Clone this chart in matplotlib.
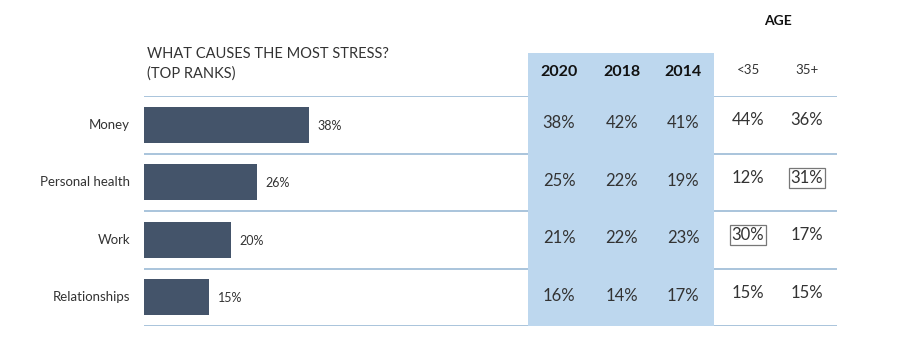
import matplotlib
matplotlib.use("Agg")
from matplotlib import pyplot as plt
from matplotlib.patches import Rectangle
from matplotlib.transforms import blended_transform_factory

plt.rcParams['font.family'] = ['Lato', 'DejaVu Sans']

categories = ['Money', 'Personal health', 'Work', 'Relationships']
stress_2020 = [38, 26, 20, 15]  # bar values
year_cols = ['2020', '2018', '2014']
year_vals = [[38, 42, 41], [25, 22, 19], [21, 22, 23], [16, 14, 17]]
age_cols = ['<35', '35+']
age_vals = [[44, 36], [12, 31], [30, 17], [15, 15]]
boxed = [(1, 1), (2, 0)]  # (row, age col) with a frame

txt = '#333333'
bar_col = '#44546A'
line_col = '#A3BFD9'
bg_col = '#BDD7EE'

W, H = 900, 364
fig = plt.figure(figsize=(9, 3.64), dpi=100)
ax = fig.add_axes([144 / W, (H - 326) / H, 693 / W, 230 / H])
ax.set_xlim(0, 160)
ax.set_ylim(3.5, -0.5)
ax.axis('off')

ys = range(len(categories))
ax.barh(ys, stress_2020, height=0.63, color=bar_col, zorder=2)
for i, v in enumerate(stress_2020):
    ax.text(v + 2, i + 0.02, f'{v}%', ha='left', va='center', fontsize=9, color=txt)
    ax.text(-14 / 4.33, i, categories[i], ha='right', va='center', fontsize=9.5, color=txt)

for y in [-0.5, 0.5, 1.5, 2.5, 3.5]:
    ax.axhline(y, color=line_col, lw=1.3, zorder=1)

# blue band behind year columns
tr = blended_transform_factory(fig.transFigure, ax.transData)
top = -0.5 - (96 - 53) / 57.5
ax.add_patch(Rectangle((528 / W, top), (714 - 528) / W, 3.5 - top, transform=tr,
                       facecolor=bg_col, edgecolor='none', zorder=2, clip_on=False))

year_x = [559, 622, 683]
age_x = [748, 807]
hdr_y = -0.5 - (96 - 72) / 57.5
for j, c in enumerate(year_cols):
    ax.text(year_x[j] / W, hdr_y, c, transform=tr, ha='center', va='center',
            fontsize=11.5, fontweight='bold', color='#111111', zorder=3, clip_on=False)
for j, c in enumerate(age_cols):
    ax.text(age_x[j] / W, hdr_y - 0.04, c, transform=tr, ha='center', va='center',
            fontsize=9.5, color=txt, zorder=3, clip_on=False)

for i in range(len(categories)):
    for j, v in enumerate(year_vals[i]):
        ax.text(year_x[j] / W, i - 0.03, f'{v}%', transform=tr, ha='center', va='center',
                fontsize=12, color=txt, zorder=3, clip_on=False)
    for j, v in enumerate(age_vals[i]):
        bb = None
        if (i, j) in boxed:
            bb = dict(boxstyle='square,pad=0.12', facecolor='none', edgecolor='#777777', lw=0.9)
        ax.text(age_x[j] / W, i - 0.08, f'{v}%', transform=tr, ha='center', va='center',
                fontsize=12, color=txt, zorder=3, clip_on=False, bbox=bb)

fig.text(778 / W, 1 - 21 / H, 'AGE', ha='center', va='center', fontsize=10,
         fontweight='bold', color='#111111')
fig.text(147 / W, 1 - 47 / H, 'WHAT CAUSES THE MOST STRESS?\n(TOP RANKS)', ha='left',
         va='top', fontsize=10.5, color=txt, linespacing=1.45)

fig.savefig('out.png', dpi=100)
